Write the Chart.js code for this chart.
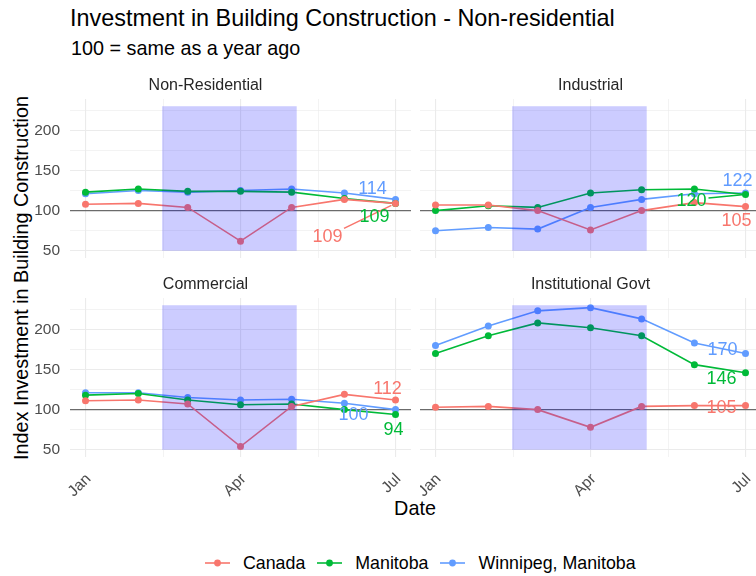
<!DOCTYPE html>
<html><head><meta charset="utf-8">
<script src="https://cdn.jsdelivr.net/npm/chart.js@4.4.1/dist/chart.umd.min.js"></script>
<style>
html,body{margin:0;padding:0;background:#fff;width:756px;height:576px;overflow:hidden;position:relative;font-family:"Liberation Sans",Arial,sans-serif;}
canvas{position:absolute;}
.txt{position:absolute;white-space:nowrap;color:#000;}
#title{left:70px;top:7px;font-size:23.4px;line-height:23px;}
#subtitle{left:71px;top:38px;font-size:19.8px;line-height:20px;}
#ytitle{left:21px;top:278px;font-size:19.8px;line-height:20px;transform:translate(-50%,-50%) rotate(-90deg);}
#xtitle{left:415px;top:508px;font-size:19.8px;line-height:20px;transform:translate(-50%,-50%);}
#legend{position:absolute;left:205px;top:552px;display:flex;align-items:center;font-size:17.8px;line-height:22px;color:#000;}
#legend .item{display:flex;align-items:center;margin-right:12px;}
#legend svg{margin-right:13px;}
</style>
</head>
<body>
<div id="title" class="txt">Investment in Building Construction - Non-residential</div>
<div id="subtitle" class="txt">100 = same as a year ago</div>
<div id="ytitle" class="txt">Index Investment in Building Construction</div>
<div id="xtitle" class="txt">Date</div>
<canvas id="p0" width="411" height="188" style="left:0px;top:70px"></canvas>
<canvas id="p1" width="341" height="188" style="left:420px;top:70px"></canvas>
<canvas id="p2" width="411" height="240" style="left:0px;top:269px"></canvas>
<canvas id="p3" width="341" height="240" style="left:420px;top:269px"></canvas>
<div id="legend"></div>
<script>
// ---------------- data ----------------
const months = ["2020-01-01","2020-02-01","2020-03-01","2020-04-01","2020-05-01","2020-06-01","2020-07-01"];
const seriesNames = ["Canada","Manitoba","Winnipeg, Manitoba"];
const panelNames = ["Non-Residential","Industrial","Commercial","Institutional Govt"];

const nonResidentialCanada   = [108,109,104,62,104,114,109];
const nonResidentialManitoba = [123,127,124,124,123,115,109];
const nonResidentialWinnipeg = [121,125,123,125,127,122,114];

const industrialCanada   = [107,107,100,76,100,110,105];
const industrialManitoba = [100,106,104,122,126,127,120];
const industrialWinnipeg = [75,79,77,104,114,121,122];

const commercialCanada   = [111,112,107,54,104,119,112];
const commercialManitoba = [118,120,112,106,107,100,94];
const commercialWinnipeg = [121,121,115,112,113,108,100];

const institutionalCanada   = [103,104,100,78,104,105,105];
const institutionalManitoba = [170,192,208,202,192,156,146];
const institutionalWinnipeg = [180,204,223,227,213,183,170];

const xTickDates  = ["2020-01-01","2020-04-01","2020-07-01"];
const xTickLabels = ["Jan","Apr","Jul"];
const yTickValues = [50,100,150,200];
const shadeDates  = ["2020-02-15","2020-05-04"];
const shadeRange  = [50,230];
const referenceValue = 100;

// ---------------- styling / layout ----------------
const colors = ["#F8766D","#00BA38","#619CFF"];
const panelSeries = [
  [nonResidentialCanada, nonResidentialManitoba, nonResidentialWinnipeg],
  [industrialCanada, industrialManitoba, industrialWinnipeg],
  [commercialCanada, commercialManitoba, commercialWinnipeg],
  [institutionalCanada, institutionalManitoba, institutionalWinnipeg]
];
// end-label nudges in pixels relative to last point [dx, dy, drawSegment]
const labelNudges = [
  [[-68,33,true],[-21,13,false],[-23,-11,false]],
  [[-9,13,false],[-54,5,true],[-8,-13,false]],
  [[-8,-12,false],[-2,15,false],[-42,4,false]],
  [[-24,1,false],[-24,5,false],[-23,-4,false]]
];
const panelLayout = [
  {id:"p0", yWidth:70, xHeight:0,  showX:false, showY:true},
  {id:"p1", yWidth:0,  xHeight:0,  showX:false, showY:false},
  {id:"p2", yWidth:70, xHeight:52, showX:true,  showY:true},
  {id:"p3", yWidth:0,  xHeight:52, showX:true,  showY:false}
];

Chart.defaults.font.family = '"Liberation Sans", Arial, sans-serif';

const t0 = Date.parse(months[0]);
const day = s => (Date.parse(s) - t0) / 86400000;

const xDays = months.map(day);
const xMajor = xTickDates.map(day);
const xMinor = xMajor.slice(1).map((v,i)=>(v + xMajor[i]) / 2);
const xSpan = xDays[xDays.length-1] - xDays[0];
const xMin = xDays[0] - 0.05 * xSpan, xMax = xDays[xDays.length-1] + 0.05 * xSpan;

const allVals = panelSeries.flat(2).concat(shadeRange);
const lo = Math.min(...allVals), hi = Math.max(...allVals);
const yMin = lo - 0.05 * (hi - lo), yMax = hi + 0.05 * (hi - lo);
const yMinor = yTickValues.map(v => v + (yTickValues[1]-yTickValues[0]) / 2);

function makeTicks(major, minor) {
  return major.map(v => ({value:v, minorTick:false}))
    .concat(minor.map(v => ({value:v, minorTick:true})))
    .sort((a,b)=>a.value-b.value);
}
const gridStyle = {
  color: "#EBEBEB",
  lineWidth: ctx => (ctx.tick && ctx.tick.minorTick) ? 0.6 : 1.1,
  drawTicks: false
};

function panelPlugin(pi) {
  return {
    id: "facetExtras" + pi,
    beforeDatasetsDraw(chart) {
      const {ctx, chartArea, scales} = chart;
      const y = scales.y.getPixelForValue(referenceValue);
      ctx.save();
      ctx.strokeStyle = "#6b6b6b";
      ctx.lineWidth = 1.3;
      ctx.beginPath();
      ctx.moveTo(chartArea.left, y);
      ctx.lineTo(chartArea.right, y);
      ctx.stroke();
      ctx.restore();
    },
    afterDatasetsDraw(chart) {
      const {ctx, scales} = chart;
      const x1 = scales.x.getPixelForValue(day(shadeDates[0]));
      const x2 = scales.x.getPixelForValue(day(shadeDates[1]));
      const y1 = scales.y.getPixelForValue(shadeRange[1]);
      const y2 = scales.y.getPixelForValue(shadeRange[0]);
      ctx.save();
      ctx.fillStyle = "rgba(0,0,255,0.2)";
      ctx.fillRect(x1, y1, x2 - x1, y2 - y1);
      ctx.restore();
    },
    afterDraw(chart) {
      const {ctx, scales} = chart;
      ctx.save();
      ctx.font = '18px "Liberation Sans", Arial, sans-serif';
      ctx.textAlign = "center";
      ctx.textBaseline = "middle";
      panelSeries[pi].forEach((vals, si) => {
        const last = vals[vals.length-1];
        const px = scales.x.getPixelForValue(xDays[xDays.length-1]);
        const py = scales.y.getPixelForValue(last);
        const [dx, dy, seg] = labelNudges[pi][si];
        const lx = px + dx, ly = py + dy;
        const text = String(last);
        ctx.fillStyle = colors[si];
        ctx.fillText(text, lx, ly + 1);
        if (seg) {
          const hw = ctx.measureText(text).width / 2 + 2, hh = 8;
          const vx = px - lx, vy = py - ly;
          const s = Math.min(hw / Math.abs(vx || 1e-6), hh / Math.abs(vy || 1e-6));
          ctx.strokeStyle = colors[si];
          ctx.lineWidth = 1.5;
          ctx.beginPath();
          ctx.moveTo(lx + vx * s, ly + vy * s);
          ctx.lineTo(px - vx * 0.06, py - vy * 0.06);
          ctx.stroke();
        }
      });
      ctx.restore();
    }
  };
}

panelLayout.forEach((lay, pi) => {
  const datasets = panelSeries[pi].map((vals, si) => ({
    label: seriesNames[si],
    data: vals.map((v, i) => ({x: xDays[i], y: v})),
    borderColor: colors[si],
    backgroundColor: colors[si],
    pointBackgroundColor: colors[si],
    pointBorderWidth: 0,
    pointRadius: 3.5,
    borderWidth: 1.6,
    tension: 0,
    fill: false
  }));
  new Chart(document.getElementById(lay.id), {
    type: "line",
    data: {datasets},
    plugins: [panelPlugin(pi)],
    options: {
      responsive: false,
      animation: false,
      devicePixelRatio: 1,
      layout: {padding: 0, autoPadding: false},
      plugins: {
        legend: {display: false},
        tooltip: {enabled: false},
        title: {
          display: true,
          text: panelNames[pi],
          color: "#262626",
          font: {size: 16, weight: "normal"},
          padding: {top: 6, bottom: 3.8}
        }
      },
      scales: {
        x: {
          type: "linear",
          min: xMin, max: xMax,
          border: {display: false},
          grid: gridStyle,
          afterBuildTicks: s => { s.ticks = makeTicks(xMajor, xMinor); },
          afterFit: s => { s.height = lay.xHeight; s.paddingLeft = 0; s.paddingRight = 0; },
          ticks: {
            display: lay.showX,
            autoSkip: false,
            minRotation: 45, maxRotation: 45,
            padding: 13,
            labelOffset: 3,
            color: "#4d4d4d",
            font: {size: 15.5},
            callback: v => { const k = xMajor.indexOf(v); return k >= 0 ? xTickLabels[k] : ""; }
          }
        },
        y: {
          type: "linear",
          min: yMin, max: yMax,
          border: {display: false},
          grid: gridStyle,
          afterBuildTicks: s => { s.ticks = makeTicks(yTickValues, yMinor.filter(v => v < yMax)); },
          afterFit: s => { s.width = lay.yWidth; s.paddingTop = 0; s.paddingBottom = 0; },
          ticks: {
            display: lay.showY,
            padding: 10,
            color: "#4d4d4d",
            font: {size: 15.5},
            callback: v => yTickValues.includes(v) ? String(v) : ""
          }
        }
      }
    }
  });
});

// legend
const legend = document.getElementById("legend");
seriesNames.forEach((name, si) => {
  const item = document.createElement("div");
  item.className = "item";
  item.innerHTML = '<svg width="25" height="14" viewBox="0 0 25 14"><line x1="0" y1="7" x2="25" y2="7" stroke="' + colors[si] +
    '" stroke-width="1.6"/><circle cx="12.5" cy="7" r="3.4" fill="' + colors[si] + '"/></svg><span>' + name + '</span>';
  legend.appendChild(item);
});
</script>
</body></html>
